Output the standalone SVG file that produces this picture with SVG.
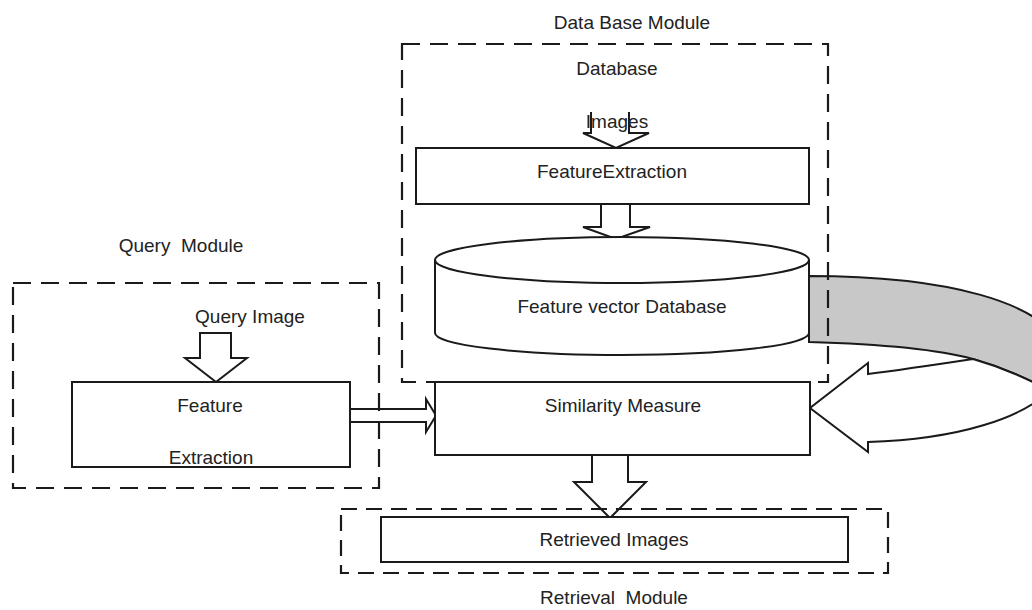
<svg xmlns="http://www.w3.org/2000/svg" width="1032" height="610" viewBox="0 0 1032 610">
<style>
text{font-family:"Liberation Sans",Arial,sans-serif;font-size:19px;fill:#222;text-anchor:middle;white-space:pre}
.box{fill:#fff;stroke:#1a1a1a;stroke-width:2}
.dash{fill:none;stroke:#1a1a1a;stroke-width:2.2;stroke-dasharray:18 10}
.arr{fill:#fff;stroke:#1a1a1a;stroke-width:2;stroke-linejoin:miter}
.ln{fill:none;stroke:#1a1a1a;stroke-width:2}
</style>
<rect width="1032" height="610" fill="#fff"/>
<g id="connectors">
  <path class="arr" d="M591,112 V133 H583 L616,148 L649,133 H629 V112"/>
  <path class="arr" d="M601,204 V227 H583 L616,239 L650,227 H630 V204"/>
  <path class="arr" d="M200,333 H231 V358 H247 L216,382 L185,358 H200 Z"/>
  <path class="arr" d="M592,455 V482 H574 L610,518 L646,482 H628 V455"/>
  <path class="ln" d="M350,409 H426 V399 L436,415.5 L426,432 V422 H350"/>
  <path id="loop-band" fill="#c8c8c8" stroke="#1a1a1a" stroke-width="2" d="M809,276 C940,276 1050,300 1065,355 C1066.5,367 1061.25,379.27 1049.6,390.7 C1030,380 1005,368 973,359 C940,350 880,344 809,342 Z"/>
  <path id="loop-arrow" class="arr" d="M868,374 C900,370 940,364 973,359 C1005,368 1030,380 1049.6,390.7 C1022.4,417.3 960.4,439.2 868,442 L868,452 L810,408 L868,363 Z"/>
</g>
<g id="database-module">
  <rect class="dash" x="402" y="44" width="426" height="338"/>
  <text x="632" y="29">Data Base Module</text>
  <text x="617" y="75">Database</text>
</g>
<g id="images-label"><text x="617" y="128">Images</text></g>
<g id="feature-extraction-db">
  <rect class="box" x="416" y="148" width="393" height="56"/>
  <text x="612" y="178">FeatureExtraction</text>
</g>
<g id="feature-vector-db">
  <path class="box" d="M435,260 A187,23 0 0 1 809,260 V333 A187,22 0 0 1 435,333 Z"/>
  <path class="ln" d="M435,260 A187,23 0 0 0 809,260"/>
  <text x="622" y="313">Feature vector Database</text>
</g>
<g id="query-module">
  <rect class="dash" x="13" y="283" width="366" height="205"/>
  <text x="181" y="252">Query  Module</text>
  <text x="250" y="323">Query Image</text>
</g>
<g id="feature-extraction-query">
  <rect class="box" x="72" y="382" width="278" height="85"/>
  <text x="210" y="412">Feature</text>
  <text x="211" y="464">Extraction</text>
</g>
<g id="similarity-measure">
  <rect class="box" x="435" y="382" width="375" height="73"/>
  <text x="623" y="412">Similarity Measure</text>
</g>
<g id="retrieval-module">
  <rect class="dash" x="341" y="509" width="547" height="64" style="stroke-dasharray:16 9"/>
  <text x="614" y="604">Retrieval  Module</text>
</g>
<g id="retrieved-images">
  <rect class="box" x="381" y="517" width="467" height="45"/>
  <text x="614" y="546">Retrieved Images</text>
</g>
</svg>
